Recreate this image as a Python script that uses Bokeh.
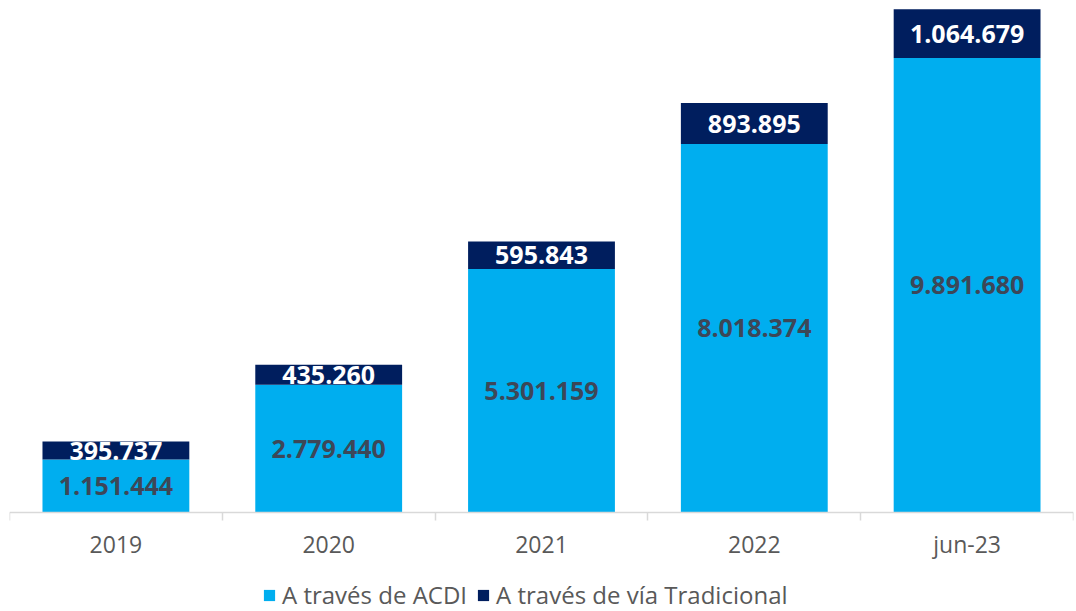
from bokeh.plotting import figure
from bokeh.models import (ColumnDataSource, Range1d, FixedTicker, Legend, LegendItem)
from bokeh.core.properties import value
from bokeh.embed import file_html
from bokeh.resources import INLINE

categories = ["2019", "2020", "2021", "2022", "jun-23"]
acdi = [1151444, 2779440, 5301159, 8018374, 9891680]
tradicional = [395737, 435260, 595843, 893895, 1064679]
series_names = ["A través de ACDI", "A través de vía Tradicional"]

LIGHT = "#00AEEF"
NAVY = "#001E5E"


def fmt(v):
    return f"{v:,}".replace(",", ".")


xc = [i + 0.5 for i in range(len(categories))]
source = ColumnDataSource(dict(
    x=xc,
    acdi=acdi,
    trad=tradicional,
    mid_a=[a / 2 for a in acdi],
    mid_t=[a + t / 2 for a, t in zip(acdi, tradicional)],
    lab_a=[fmt(v) for v in acdi],
    lab_t=[fmt(v) for v in tradicional],
))

# frame spans the bars, the axis and the legend; y = 0 sits 99 px above the frame bottom
p = figure(frame_width=1064, frame_height=603, output_backend="svg",
           toolbar_location=None, x_range=Range1d(0, len(categories)),
           y_range=Range1d(-2155000, 10970000), min_border_top=8,
           min_border_left=9, min_border_right=1, min_border_bottom=0)
p.outline_line_color = None
p.xgrid.visible = False
p.ygrid.visible = False
p.yaxis.visible = False

r = p.vbar_stack(["acdi", "trad"], x="x", width=0.69, source=source,
                 color=[LIGHT, NAVY], line_color=None)

p.text(x="x", y="mid_a", text="lab_a", source=source, text_align="center",
       text_baseline="middle", text_font=value("Open Sans"),
       text_font_style="bold", text_font_size="25px", text_color="#3D4758")
p.text(x="x", y="mid_t", text="lab_t", source=source, text_align="center",
       text_baseline="middle", text_font=value("Open Sans"),
       text_font_style="bold", text_font_size="25px", text_color="#FFFFFF")

ax = p.xaxis[0]
ax.fixed_location = 0
ax.ticker = FixedTicker(ticks=xc, minor_ticks=list(range(len(categories) + 1)))
ax.major_label_overrides = {x: c for x, c in zip(xc, categories)}
ax.major_tick_out = 0
ax.major_tick_in = 0
ax.minor_tick_out = 8
ax.minor_tick_in = 0
ax.minor_tick_line_color = "#D9D9D9"
ax.minor_tick_line_width = 1.5
ax.axis_line_color = "#D9D9D9"
ax.axis_line_width = 1.5
ax.major_label_standoff = 8
ax.major_label_text_font = "Open Sans"
ax.major_label_text_font_size = "23px"
ax.major_label_text_color = "#595959"

legend = Legend(items=[LegendItem(label=series_names[0], renderers=[r[0]]),
                       LegendItem(label=series_names[1], renderers=[r[1]])],
                orientation="horizontal", location=(253, 0),
                glyph_width=14, glyph_height=14, label_standoff=6, spacing=9,
                padding=0, margin=0, border_line_color=None,
                background_fill_alpha=0,
                label_text_font="Open Sans", label_text_font_size="24px",
                label_text_color="#595959")
p.add_layout(legend, "center")

open("out.html", "w").write(file_html(p, INLINE))
